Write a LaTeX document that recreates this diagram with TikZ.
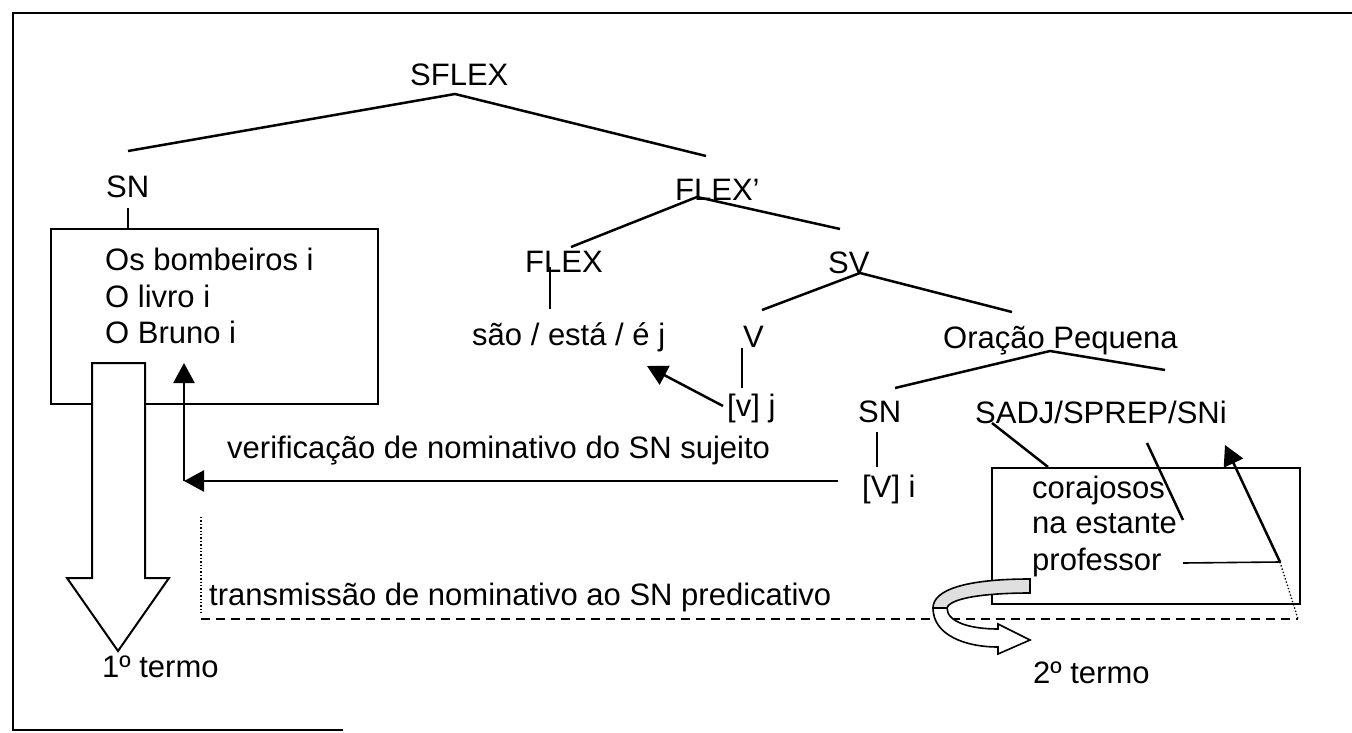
\documentclass[tikz,border=0pt]{standalone}
\usepackage{fontspec}
\setmainfont{Liberation Sans}
\usetikzlibrary{arrows.meta}
\begin{document}
\begin{tikzpicture}[x=1pt,y=-1pt,
  txt/.style={font=\fontsize{31}{37}\selectfont, inner sep=0pt, anchor=base west},
  br/.style={line width=2.5pt},
  boxline/.style={draw, line width=2pt, inner sep=0pt, anchor=north west},
  tipped/.style={line width=2.5pt, -{Triangle[length=20pt,width=21pt]}},
  thin/.style={line width=1.6pt},
]
\useasboundingbox (0,0) rectangle (1352,733);
% frame
\draw[line width=2.2pt] (343,730) -- (13,730) -- (13,13) -- (1352,13);

% boxes
\node[boxline, minimum width=327pt, minimum height=175pt] (boxL) at (50,228) {};
\node[boxline, minimum width=308pt, minimum height=136pt] (boxR) at (991,467) {};

% texts
\node[txt] (sflex) at (410,86) {SFLEX};
\node[txt] (sn) at (106,197) {SN};
\node[txt] (flexb) at (675,200) {FLEX’};
\node[txt] (flex) at (525,272) {FLEX};
\node[txt] (sv) at (828,273) {SV};
\node[txt] (verb) at (472,345) {são / está / é j};
\node[txt] (v) at (743,347) {V};
\node[txt] (op) at (943,348) {Oração Pequena};
\node[txt] (vj) at (727,416) {[v] j};
\node[txt] (sn2) at (858,422) {SN};
\node[txt] (sadj) at (975,423) {SADJ/SPREP/SNi};
\node[txt] (Vi) at (862,497) {[V] i};
\node[txt] (verif) at (227,458) {verificação de nominativo do SN sujeito};
\node[txt] (l1) at (105,270) {Os bombeiros i};
\node[txt] (l2) at (105,307) {O livro i};
\node[txt] (l3) at (105,343) {O Bruno i};
\node[txt] (r1) at (1032,498) {corajosos};
\node[txt] (r2) at (1032,533) {na estante};
\node[txt] (r3) at (1032,570) {professor};
\node[txt] (trans) at (209,605) {transmissão de nominativo ao SN predicativo};
\node[txt] (t1) at (102,677) {1º termo};
\node[txt] (t2) at (1033,683) {2º termo};

% coordinates for tree branches
\coordinate (a0) at (455,94);
\coordinate (snT) at (128,151);
\coordinate (flT) at (706,156);
\coordinate (snB) at (128,208);
\coordinate (fa) at (697,197);
\coordinate (flexT) at (571,247);
\coordinate (svT) at (840,229);
\coordinate (flexL1) at (550,267);
\coordinate (flexL2) at (550,309);
\coordinate (sva) at (860,273);
\coordinate (vT) at (762,310);
\coordinate (opT) at (1012,312);
\coordinate (vL1) at (742,348);
\coordinate (vL2) at (742,388);
\coordinate (opa) at (1050,351);
\coordinate (sn2T) at (895,388);
\coordinate (sadjT) at (1165,370);
\coordinate (sn2L1) at (877,432);
\coordinate (sn2L2) at (877,467);
\coordinate (sadjL1) at (992,423);
\coordinate (sadjL2) at (1048,467);
\coordinate (sadjL3) at (1147,443);
\coordinate (sadjL4) at (1183,520);
\coordinate (vjS) at (723,406);
\coordinate (verbT) at (647,366);
\coordinate (ViW) at (838,481);
\coordinate (corner) at (184,481);
\coordinate (boxT) at (184,363);
\coordinate (pA) at (1280,562);
\coordinate (pT) at (1225,445);
\coordinate (pL) at (1183,563);
\coordinate (dS) at (201,619);
\coordinate (dE) at (1298,619);
\coordinate (dotT) at (201,517);
\coordinate (dotB) at (201,613);

% tree branches
\draw[br] (snT) -- (a0) -- (flT);
\draw[br] (snB) -- (snB |- boxL.north);
\draw[br] (flexT) -- (fa) -- (svT);
\draw[br] (flexL1) -- (flexL2);
\draw[br] (vT) -- (sva) -- (opT);
\draw[br] (vL1) -- (vL2);
\draw[br] (sn2T) -- (opa) -- (sadjT);
\draw[br] (sn2L1) -- (sn2L2);
\draw[br] (sadjL1) -- (sadjL2);
\draw[br] (sadjL3) -- (sadjL4);

% arrows
\draw[tipped] (vjS) -- (verbT);
\draw[tipped] (ViW) -- (corner);
\draw[tipped] (corner) -- (boxT);
\draw[thin] (pL) -- (pA);
\draw[tipped] (pA) -- (pT);
\draw[line width=1.4pt, dotted] (pA) -- (dE);
\draw[line width=1.4pt, dash pattern=on 9pt off 6pt] (dS) -- (dE);
\draw[line width=1.4pt, dotted] (dotT) -- (dotB);

% big hollow arrow
\draw[line width=2pt, fill=white] (92,363) -- (145,363) -- (145,578) -- (169,578)
  -- (118,651) -- (67,578) -- (92,578) -- cycle;

% curved ribbon arrow
\draw[line width=1.6pt, fill=gray!25] (1030,579) .. controls (965,579) and (933,590) .. (933,608)
  -- (947,608) .. controls (950,598) and (985,593) .. (1030,593) -- cycle;
\draw[line width=1.6pt, fill=white] (933,608) .. controls (933,635) and (965,647) .. (998,647)
  -- (998,654) -- (1030,640) -- (998,624) -- (998,629)
  .. controls (970,629) and (947,622) .. (947,608) -- cycle;
\end{tikzpicture}
\end{document}
